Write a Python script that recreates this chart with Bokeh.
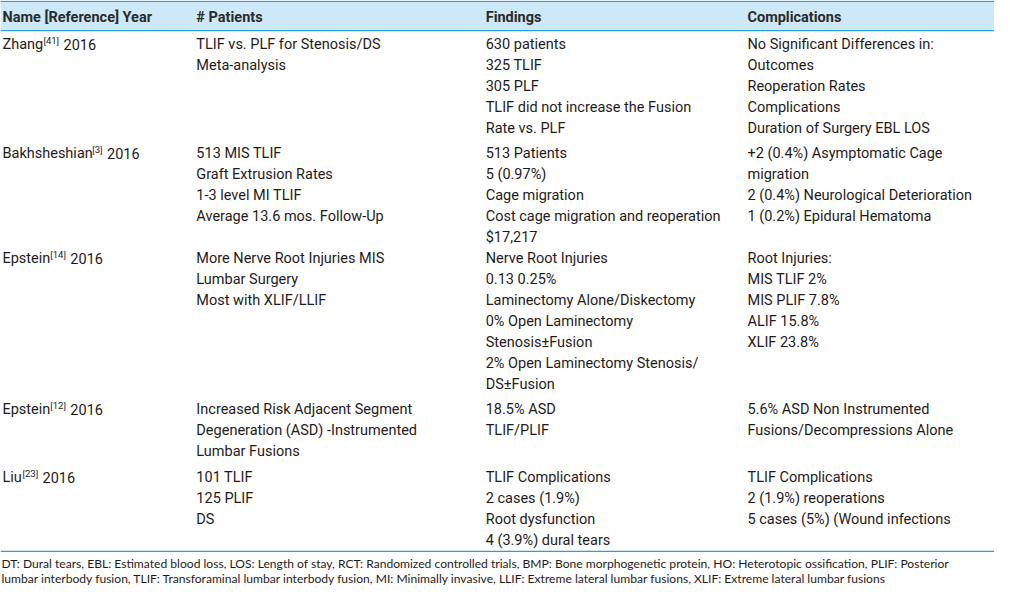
from bokeh.plotting import figure
from bokeh.models import Range1d, ColumnDataSource
from bokeh.core.properties import value
from bokeh.embed import file_html
from bokeh.resources import INLINE

# ---------------- data ----------------
headers = ["Name [Reference] Year", "# Patients", "Findings", "Complications"]
names = ["Zhang", "Bakhsheshian", "Epstein", "Epstein", "Liu"]
refs = ["[41]", "[3]", "[14]", "[12]", "[23]"]
years = ["2016", "2016", "2016", "2016", "2016"]
patients = [
    ["TLIF vs. PLF for Stenosis/DS", "Meta-analysis"],
    ["513 MIS TLIF", "Graft Extrusion Rates", "1-3 level MI TLIF", "Average 13.6 mos. Follow-Up"],
    ["More Nerve Root Injuries MIS", "Lumbar Surgery", "Most with XLIF/LLIF"],
    ["Increased Risk Adjacent Segment", "Degeneration (ASD) -Instrumented", "Lumbar Fusions"],
    ["101 TLIF", "125 PLIF", "DS"],
]
findings = [
    ["630 patients", "325 TLIF", "305 PLF", "TLIF did not increase the Fusion", "Rate vs. PLF"],
    ["513 Patients", "5 (0.97%)", "Cage migration", "Cost cage migration and reoperation", "$17,217"],
    ["Nerve Root Injuries", "0.13 0.25%", "Laminectomy Alone/Diskectomy", "0% Open Laminectomy",
     "Stenosis\u00b1Fusion", "2% Open Laminectomy Stenosis/", "DS\u00b1Fusion"],
    ["18.5% ASD", "TLIF/PLIF"],
    ["TLIF Complications", "2 cases (1.9%)", "Root dysfunction", "4 (3.9%) dural tears"],
]
complications = [
    ["No Significant Differences in:", "Outcomes", "Reoperation Rates", "Complications",
     "Duration of Surgery EBL LOS"],
    ["+2 (0.4%) Asymptomatic Cage", "migration", "2 (0.4%) Neurological Deterioration",
     "1 (0.2%) Epidural Hematoma"],
    ["Root Injuries:", "MIS TLIF 2%", "MIS PLIF 7.8%", "ALIF 15.8%", "XLIF 23.8%"],
    ["5.6% ASD Non Instrumented", "Fusions/Decompressions Alone"],
    ["TLIF Complications", "2 (1.9%) reoperations", "5 cases (5%) (Wound infections"],
]
footnotes = [
    "DT: Dural tears, EBL: Estimated blood loss, LOS: Length of stay, RCT: Randomized controlled trials, "
    "BMP: Bone morphogenetic protein, HO: Heterotopic ossification, PLIF: Posterior",
    "lumbar interbody fusion, TLIF: Transforaminal lumbar interbody fusion, MI: Minimally invasive, "
    "LLIF: Extreme lateral lumbar fusions, XLIF: Extreme lateral lumbar fusions",
]

# ---------------- layout ----------------
W, H = 1010, 602
col_x = [2, 199, 493, 759]
row_y = [45, 157, 265, 420, 490]
line_h = 21.6
FS = 14.5       # body font size (px)
FS_SUP = 9.5    # superscript size (px)
BODY_FONT = value("Roboto")
FOOT_FONT = value("Lato")
TXT = "#1f1b1c"
BLUE = "#2b9fd8"
BAND = "#cde8f7"

# approximate Roboto advance widths (em) to attach superscripts after names
ADV = {"Z": .60, "h": .55, "a": .54, "n": .55, "g": .56, "B": .62, "k": .51, "s": .52,
       "e": .53, "i": .24, "E": .55, "p": .56, "t": .33, "L": .54, "u": .55,
       "[": .27, "]": .27, " ": .25}


def tw(s, fs):
    return sum(ADV.get(c, .56) for c in s) * fs


ref_x = [col_x[0] + tw(n, FS) + 1 for n in names]
year_x = [rx + tw(r, FS_SUP) + tw(" ", FS) + 1 for rx, r in zip(ref_x, refs)]

p = figure(width=994, height=586, x_range=Range1d(0, W), y_range=Range1d(H, 0),
           output_backend="svg", toolbar_location=None, min_border=0)
p.axis.visible = False
p.grid.visible = False
p.outline_line_color = None
p.background_fill_color = "white"
p.border_fill_color = "white"

# header band and rules
p.quad(left=[0], right=[W], top=[1], bottom=[31], fill_color=BAND, line_color=None)
p.segment(x0=[0, 0, 0], x1=[W, W, W], y0=[1, 31, 566], y1=[1, 31, 566],
          line_color=BLUE, line_width=1.3)

# header text
p.text(x=col_x, y=[17] * 4, text=headers, text_font=BODY_FONT, text_font_style="bold",
       text_font_size=f"{FS}px", text_color="#2b2b2b", text_baseline="middle", text_align="left")

# names, superscripts, years
p.text(x=[col_x[0]] * len(names), y=row_y, text=names, text_font=BODY_FONT,
       text_font_size=f"{FS}px", text_color=TXT, text_baseline="middle")
p.text(x=ref_x, y=[y - 4 for y in row_y], text=refs, text_font=BODY_FONT,
       text_font_size=f"{FS_SUP}px", text_color=TXT, text_baseline="middle")
p.text(x=year_x, y=row_y, text=years, text_font=BODY_FONT,
       text_font_size=f"{FS}px", text_color=TXT, text_baseline="middle")

# body cells
xs, ys, ts = [], [], []
for ci, col in enumerate([patients, findings, complications], start=1):
    for ri, cell in enumerate(col):
        for li, t in enumerate(cell):
            xs.append(col_x[ci])
            ys.append(row_y[ri] + li * line_h)
            ts.append(t)
src = ColumnDataSource(dict(x=xs, y=ys, t=ts))
p.text(x="x", y="y", text="t", source=src, text_font=BODY_FONT, text_font_size=f"{FS}px",
       text_color=TXT, text_baseline="middle")

# footnotes
p.text(x=[1, 1], y=[578, 594], text=footnotes, text_font=FOOT_FONT, text_font_size="12.1px",
       text_color=TXT, text_baseline="middle")

open("out.html", "w").write(file_html(p, INLINE))
